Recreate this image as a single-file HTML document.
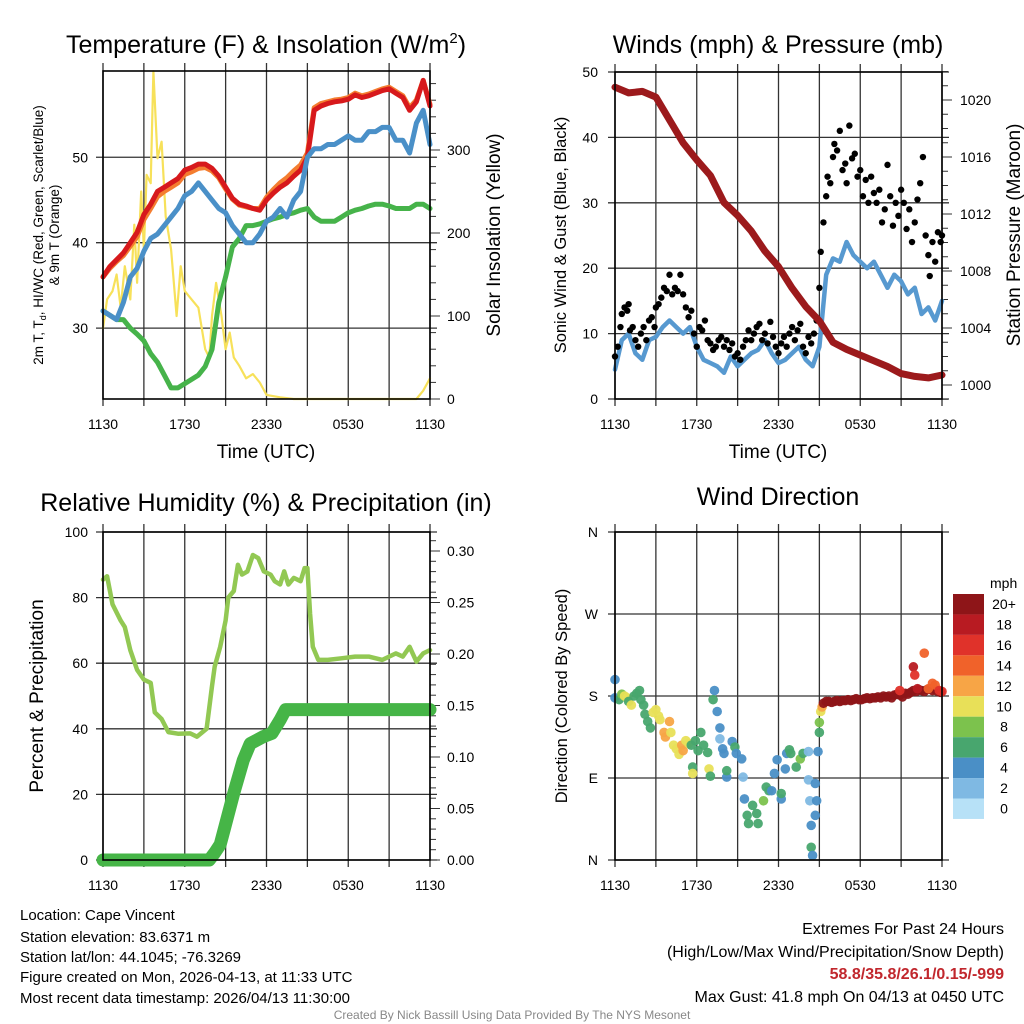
<!DOCTYPE html>
<html><head><meta charset="utf-8"><style>
html,body{margin:0;padding:0;background:#fff;}
svg{display:block;font-family:"Liberation Sans",Arial,sans-serif;}
</style></head><body>
<svg id="fig" width="1024" height="1024" viewBox="0 0 1024 1024" xmlns="http://www.w3.org/2000/svg">
<rect x="0" y="0" width="1024" height="1024" fill="#fff"/>
<g id="grids"></g>
<g id="marks"></g>
<g id="frames" fill="none" stroke="#000" stroke-width="1.6">
<rect x="103" y="71" width="327" height="328"/>
<rect x="615" y="72" width="327" height="327"/>
<rect x="103" y="532" width="327" height="328"/>
<rect x="615" y="532" width="327" height="328"/>
</g>
<g id="labels" font-size="14" fill="#000"></g>
<g fill="#000">
<text x="266" y="53" font-size="25" text-anchor="middle">Temperature (F) &amp; Insolation (W/m<tspan font-size="15" dy="-10">2</tspan><tspan dy="10">)</tspan></text>
<text x="778" y="53" font-size="25" text-anchor="middle">Winds (mph) &amp; Pressure (mb)</text>
<text x="266" y="511" font-size="25" text-anchor="middle">Relative Humidity (%) &amp; Precipitation (in)</text>
<text x="778" y="505" font-size="25" text-anchor="middle">Wind Direction</text>
<text x="266" y="458" font-size="19" text-anchor="middle">Time (UTC)</text>
<text x="778" y="458" font-size="19" text-anchor="middle">Time (UTC)</text>
<text transform="translate(43,235) rotate(-90)" font-size="13.5" text-anchor="middle">2m T, T<tspan font-size="9" dy="3">d</tspan><tspan dy="-3">, HI/WC (Red, Green, Scarlet/Blue)</tspan></text>
<text transform="translate(59,235) rotate(-90)" font-size="13.5" text-anchor="middle">&amp; 9m T (Orange)</text>
<text transform="translate(500,235) rotate(-90)" font-size="19" text-anchor="middle">Solar Insolation (Yellow)</text>
<text transform="translate(566,235) rotate(-90)" font-size="16.5" text-anchor="middle">Sonic Wind &amp; Gust (Blue, Black)</text>
<text transform="translate(1020,235) rotate(-90)" font-size="19" text-anchor="middle">Station Pressure (Maroon)</text>
<text transform="translate(43,696) rotate(-90)" font-size="19" text-anchor="middle">Percent &amp; Precipitation</text>
<text transform="translate(567,696) rotate(-90)" font-size="16.5" text-anchor="middle">Direction (Colored By Speed)</text>
</g>
<g id="cbar"><text x="990" y="588" font-size="14">mph</text></g>
<g font-size="15" fill="#000">
<text x="20" y="920">Location: Cape Vincent</text>
<text x="20" y="942">Station elevation: 83.6371 m</text>
<text x="20" y="962">Station lat/lon: 44.1045; -76.3269</text>
<text x="20" y="982">Figure created on Mon, 2026-04-13, at 11:33 UTC</text>
<text x="20" y="1003">Most recent data timestamp: 2026/04/13 11:30:00</text>
</g>
<g font-size="16" fill="#000" text-anchor="end">
<text x="1004" y="934">Extremes For Past 24 Hours</text>
<text x="1004" y="957">(High/Low/Max Wind/Precipitation/Snow Depth)</text>
<text x="1004" y="979" fill="#c1272d" font-weight="bold">58.8/35.8/26.1/0.15/-999</text>
<text x="1004" y="1002">Max Gust: 41.8 mph On 04/13 at 0450 UTC</text>
</g>
<text x="512" y="1019" font-size="12" fill="#888" text-anchor="middle">Created By Nick Bassill Using Data Provided By The NYS Mesonet</text>
</svg>
<script>
// ---------- data ----------
const timeLabels = ["1130","1730","2330","0530","1130"];
const timeLabelHours = [0,6,12,18,24];
const tHalf = [0,0.5,1,1.5,2,2.5,3,3.5,4,4.5,5,5.5,6,6.5,7,7.5,8,8.5,9,9.5,10,10.5,11,11.5,12,12.5,13,13.5,14,14.5,15,15.5,16,16.5,17,17.5,18,18.5,19,19.5,20,20.5,21,21.5,22,22.5,23,23.5,24];
const tempRed = [36,37.2,38,38.8,40,41.2,43.3,44.5,46,46.5, 47,47.5,48.5,48.8,49.2,49.2,48.7,47.8,46.5,45.2, 44.5,44.3,44,43.8,45,45.8,46.5,47,47.8,48.5, 50,55.5,56,56.3,56.5,56.6,56.8,57.3,57,57.2, 57.5,57.8,58,57.5,57,55.5,56.5,59,56];
const temp9m = [36,37,37.8,38.5,39.6,40.7,42.7,44,45.4,46, 46.5,47,48,48.3,48.7,48.8,48.4,47.6,46.3,45.1, 44.4,44.2,44,44,45.3,46.2,47,47.6,48.4,49.1, 50.5,55.8,56.3,56.5,56.7,56.8,57,57.5,57.2,57.4, 57.7,58,58.2,57.7,57.2,55.8,56.7,59,56.2];
const windChill = [32,31.5,31,33,36,37,39,40.5,41,42, 43,44,45.5,46,47,46,45,44,43.5,42, 41,40,40,41,42.5,43,44,43,45,46, 50,51,51,51.5,51.5,52,52.5,52,52,53, 53,53.5,53.5,52,52,50.5,54,55.5,51.5];
const dewPoint = [32,31.5,31,31,30,29.3,28.5,27,26,24.5, 23,23,23.5,24,24.5,25.5,27.5,33,36,39.5, 40.5,42,42,42.2,42.5,42.8,43,43.3,43.5,43.8, 44,43,42.5,42.5,42.5,43,43.5,43.8,44,44.3, 44.5,44.5,44.3,44,44,44,44.5,44.5,44];
const tSolar = [0,0.3,0.7,1,1.3,1.6,2,2.3,2.5,2.8,3,3.2,3.5,3.7,4,4.3,4.6,5,5.4,5.7,6,6.5,7,7.5,7.8,8,8.3,8.7,9,9.3,9.6,10,10.5,11,11.5,12,13,14,16,18,20,22,23,23.5,24];
const solar = [85,120,130,150,110,160,120,210,140,250,180,270,260,395,290,310,220,180,100,160,130,120,110,60,50,100,140,100,60,80,50,40,25,30,20,5,2,0,0,0,0,0,0,10,25];
const tHour = [0,1,2,3,4,5,6,7,8,9,10,11,12,13,14,15,16,17,18,19,20,21,22,23,24];
const pressure = [1020.9,1020.5,1020.6,1020.2,1018.6,1017,1015.8,1014.7,1012.8,1011.9,1010.8,1009.4,1008.3,1006.8,1005.5,1004.5,1003,1002.5,1002.1,1001.7,1001.3,1000.8,1000.6,1000.5,1000.7];
const windSpeed = [4.5,9,10,7,6,9,9.5,11,12,11, 10,11,8,6,5.5,5,4,6.5,5,6, 7,7.5,9,7,5.5,6,7,8,6,5, 8,19,21.5,21,24,22,21,20,21,19, 17,19,18,16,17,13,14,12,15];
const tGust = [0,0.2,0.4,0.5,0.7,0.9,1.0,1.1,1.3,1.5,1.7,1.9,2.1,2.3,2.5,2.7,2.9,3.0,3.2,3.4,3.6,3.8,4.0,4.2,4.4,4.6,4.8,5.0,5.2,5.4,5.6,5.8,6.0,6.2,6.4,6.6,6.8,7.0,7.2,7.4,7.6,7.8,8.0,8.2,8.4,8.6,8.8,9.0,9.2,9.4,9.6,9.8,10.0,10.2,10.4,10.6,10.8,11.0,11.2,11.4,11.6,11.8,12.0,12.2,12.4,12.6,12.8,13.0,13.2,13.4,13.6,13.8,14.0,14.2,14.4,14.6,14.8,15.0,15.1,15.3,15.5,15.6,15.8,16.0,16.1,16.3,16.5,16.7,16.9,17.0,17.2,17.4,17.6,17.8,18.0,18.2,18.4,18.6,18.8,19.0,19.2,19.4,19.6,19.8,20.0,20.2,20.4,20.6,20.8,21.0,21.2,21.4,21.6,21.8,22.0,22.2,22.4,22.6,22.8,23.0,23.1,23.3,23.5,23.7,23.9,24];
const gust = [6.5,8,11,13,14,13.5,14.5,10.5,11,9,8,10,11,9,12,12.5,11,14,14.5,15.5,17,16.5,19,16,17,16.5,19,16,14,12.5,13.5,10,8,11,10.5,12,9,8.5,7.5,8,9,9.5,8,9,7.5,8.5,6.5,7,6,8,9,10.5,9,10,11,11.5,9,10,8.5,11.8,9.5,8,7,8.5,9.5,8,10,11,9,10.5,11.5,8,7,9.5,8.5,10,12,17,22.5,27,31,34,33,37,39,38,41,35,36,33,41.8,36.8,37.5,34,35,31,33.5,30,34,31.5,30,32,27,29,35.8,31,26.5,30,28,32,30,26,29,24,27,30.5,33,37,25,22,18.8,24,21,25.5,24,25];
const tRH = [0,0.3,0.7,1.3,1.6,2,2.5,3,3.5,3.8,4.3,4.8,5.5,6.4,6.9,7.3,7.6,8,8.2,8.6,9,9.2,9.6,9.9,10.2,10.6,11,11.4,11.8,12.3,12.6,13,13.3,13.6,14,14.5,14.8,15,15.2,15.4,15.8,16.5,17.5,18.5,19.5,20.5,21,21.5,22,22.5,23,23.5,24];
const relHum = [85.5,86.5,78,73,71,64,58,55,54,45,43,39,38.5,38.6,37.6,39,40,53,59,65,73,80,82,90,87,88,93,92,88,87,85,84,88,84,86,85,89,89,75,65,61,61,61.5,62,62,61,62,63,62,65,60.5,63,64];
const tPrecip = [0,7.8,8.2,8.6,8.9,9.6,10.3,10.8,11.8,12.4,13,13.4,24];
const precip = [0,0,0.007,0.015,0.03,0.065,0.097,0.113,0.12,0.123,0.136,0.146,0.146];
const tDir = [0,0,0.3,0.5,0.7,0.9,1.0,1.2,1.4,1.6,1.8,1.9,2.1,2.2,2.4,2.6,2.8,3.0,3.2,3.3,3.6,3.7,4.0,4.1,4.3,4.5,4.7,4.9,5.0,5.2,5.4,5.6,5.7,5.7,5.9,6.1,6.3,6.5,6.8,6.9,7.0,7.3,7.2,7.5,7.7,7.7,7.9,8.0,8.2,8.2,8.6,8.8,8.9,9.3,9.4,9.5,9.7,9.8,10.1,10.4,10.5,10.9,11.1,11.3,11.5,11.7,11.9,12.2,12.2,12.5,12.6,12.8,12.9,13.3,13.6,13.8,14.2,14.2,14.3,14.4,14.4,14.5,14.7,14.7,14.8,14.9,15.0,15.0,15.1,15.2];
const dirDeg = [198,178,176,182,180,178,174,170,180,183,186,176,170,160,152,145,162,165,158,154,140,135,152,140,126,122,116,126,120,131,128,126,102,95,131,120,140,126,118,100,92,186,176,163,145,133,122,117,91,98,130,124,117,111,91,67,49,40,60,51,40,65,80,76,76,95,110,67,73,100,117,121,117,102,111,117,119,88,65,38,14,5,49,84,65,119,140,151,163,168];
const dirSpeed = [4,4,7,8,10,10,7,10,6,6,6,7,6,7,7,7,10,10,10,10,13,13,13,10,10,11,10,12,13,10,10,7,7,10,7,6,7,6,7,10,7,4,6,4,4,2,4,4,4,6,4,7,4,4,2,4,6,6,6,6,6,8,6,6,4,4,4,4,6,4,4,6,6,6,8,6,2,2,2,4,6,4,4,4,4,4,6,8,10,12];
const tDirLate = [15.3,15.5,15.7,15.9,16.1,16.3,16.5,16.7,16.9,17.1,17.3,17.5,17.7,17.9,18.1,18.3,18.5,18.7,18.9,19.1,19.3,19.5,19.7,19.9,20.1,20.3,20.5,20.7,20.9,21.1,21.3,21.5,21.7,21.9,22.1,22.3,22.5,22.7,22.9,23.1,23.3,23.5,23.7,23.9,20.9,21.9,22.0,22.7,23.0,23.3,23.5,23.8,24,22.2];
const dirDegLate = [172,174,174,173,174,175,174,175,175,176,175,176,177,176,176,177,178,177,178,178,179,178,180,179,180,178,181,182,181,179,183,182,184,186,185,187,186,185,187,188,186,187,185,184,186,212,203,227,188,194,192,186,185,188];
const dirSpeedLate = [22,22,22,22,22,22,22,22,22,22,22,22,22,22,22,22,22,22,22,22,22,22,22,22,22,22,22,22,22,22,22,22,22,22,22,22,22,22,22,22,22,22,22,22,16,18,16,14,14,14,14,16,16,18];
const cbarLabels = ["20+","18","16","14","12","10","8","6","4","2","0"];
const cbarColors = ["#8e1518","#b81b22","#e0322a","#f0622a","#f7a546","#e8e058","#7cc24d","#48a66e","#4a8fc6","#7fb9e3","#b7e1f7"];

// ---------- scales ----------
const NS = "http://www.w3.org/2000/svg";
const xL = t => 103 + t * 327 / 24;
const xR = t => 615 + t * 327 / 24;
const yTemp = v => 399 - (v - 21.7) * (328 / 38.4);
const ySolar = v => 399 - v * 0.83;
const yWind = v => 399 - v * 6.54;
const yPres = p => 385 - (p - 1000) * 14.25;
const yRH = v => 860 - v * 3.28;
const yPrecip = v => 860 - v * 1030;
const yDir = d => 860 - d * 328 / 360;
const speedColor = s => cbarColors[10 - Math.min(10, Math.floor(s / 2))];

const grids = document.getElementById('grids');
const marks = document.getElementById('marks');
const labels = document.getElementById('labels');
function mk(tag, attrs, parent) {
  const e = document.createElementNS(NS, tag);
  for (const k in attrs) e.setAttribute(k, attrs[k]);
  parent.appendChild(e);
  return e;
}
function line(x1, y1, x2, y2, parent, w, col) {
  return mk('line', {x1: x1, y1: y1, x2: x2, y2: y2, stroke: col || '#222', 'stroke-width': w || 1.2}, parent);
}
function txt(x, y, s, anchor, parent, size) {
  const e = mk('text', {x: x, y: y, 'text-anchor': anchor, 'font-size': size || 14}, parent);
  e.textContent = s;
  return e;
}

// ---------- grids & axes ----------
const panels = [
  {x: xL, x0: 103, x1: 430, y0: 71, y1: 399},
  {x: xR, x0: 615, x1: 942, y0: 72, y1: 399},
  {x: xL, x0: 103, x1: 430, y0: 532, y1: 860},
  {x: xR, x0: 615, x1: 942, y0: 532, y1: 860}
];
panels.forEach(p => {
  for (let h = 3; h < 24; h += 3) {
    const g = line(p.x(h), p.y0 - 8, p.x(h), p.y1 + 7, grids, 1.3, '#333');
    
    
  }
  [0, 24].forEach(h => {
    const g = line(p.x(h), p.y0 - 8, p.x(h), p.y1 + 7, grids, 1.3, '#333');
    
    
  });
  timeLabelHours.forEach((h, i) => {
    const t = txt(p.x(h), p.y1 + 30, timeLabels[i], 'middle', labels);
    
    
  });
});
function hgrid(y, x0, x1) {
  const g = line(x0 - 7, y, x1 + 7, y, grids, 1.3, '#333');
  
  
}
function tick(x, y, len) {
  const g = line(x, y, x + len, y, grids, 1, '#333');
  
  
}
function ylab(x, y, s, anchor) {
  const t = txt(x, y + 5, s, anchor, labels);
  
  
}
// panel 1
[30, 40, 50].forEach(v => { hgrid(yTemp(v), 103, 430); ylab(88, yTemp(v), String(v), 'end'); });
for (let v = 0; v <= 390; v += 20) { tick(430, ySolar(v), v % 100 === 0 ? 10 : 6); }
[0, 100, 200, 300].forEach(v => ylab(447, ySolar(v), String(v), 'start'));
// panel 2
[0, 10, 20, 30, 40, 50].forEach(v => { hgrid(yWind(v), 615, 942); ylab(598, yWind(v), String(v), 'end'); });
for (let v = 999; v <= 1022; v += 1) { tick(942, yPres(v), v % 4 === 0 ? 10 : 6); }
[1000, 1004, 1008, 1012, 1016, 1020].forEach(v => ylab(960, yPres(v), String(v), 'start'));
// panel 3
[0, 20, 40, 60, 80, 100].forEach(v => { hgrid(yRH(v), 103, 430); ylab(88, yRH(v), String(v), 'end'); });
for (let v = 0; v <= 0.315; v += 0.01) { tick(430, yPrecip(v), Math.round(v * 100) % 5 === 0 ? 10 : 6); }
[0, 0.05, 0.1, 0.15, 0.2, 0.25, 0.3].forEach(v => ylab(447, yPrecip(v), v.toFixed(2), 'start'));
// panel 4
const dirLabels = ["N", "E", "S", "W", "N"];
[0, 90, 180, 270, 360].forEach((d, i) => { hgrid(yDir(d), 615, 942); ylab(598, yDir(d), dirLabels[i], 'end'); });

// ---------- series ----------
function series(ts, vs, xf, yf, color, w, name) {
  let d = '';
  ts.forEach((t, i) => { d += (i ? 'L' : 'M') + xf(t).toFixed(1) + ',' + yf(vs[i]).toFixed(1); });
  const p = mk('path', {d: d, fill: 'none', stroke: color, 'stroke-width': w, 'stroke-linejoin': 'round', 'stroke-linecap': 'round'}, marks);
  
  
  return p;
}
series(tSolar, solar, xL, ySolar, '#f7e15a', 2.2, 'solar-insolation-line');
series(tHalf, dewPoint, xL, yTemp, '#46b34a', 5, 'dewpoint-line');
series(tHalf, temp9m, xL, yTemp, '#f47d30', 5, 'temp-9m-line');
series(tHalf, tempRed, xL, yTemp, '#d7191c', 5, 'temp-2m-line');
series(tHalf, windChill, xL, yTemp, '#4a90c8', 5, 'windchill-line');

series(tHalf, windSpeed, xR, yWind, '#5799d0', 4.5, 'wind-speed-line');
tGust.forEach((t, i) => {
  const c = mk('circle', {cx: xR(t), cy: yWind(gust[i]), r: 3.2, fill: '#000'}, marks);
  
  
});
series(tHour, pressure, xR, yPres, '#9c1a1c', 7, 'pressure-line');

series(tRH, relHum, xL, yRH, '#92c853', 4.5, 'relative-humidity-line');
series(tPrecip, precip, xL, yPrecip, '#46b547', 13, 'precipitation-line');

function dirPoints(ts, ds, ss) {
  ts.forEach((t, i) => {
    const c = mk('circle', {cx: xR(t), cy: yDir(ds[i]), r: 4.8, fill: speedColor(ss[i]), 'fill-opacity': 0.95}, marks);
    
    
  });
}
dirPoints(tDir, dirDeg, dirSpeed);
dirPoints(tDirLate, dirDegLate, dirSpeedLate);

// ---------- colorbar ----------
const cbar = document.getElementById('cbar');
cbarLabels.forEach((s, i) => {
  const y = 594 + i * 20.45;
  const r = mk('rect', {x: 953, y: y, width: 31, height: 20.45, fill: cbarColors[i]}, cbar);
  
  
  const t = txt(1004, y + 15, s, 'middle', cbar);
  
  
});
</script>
</body></html>
